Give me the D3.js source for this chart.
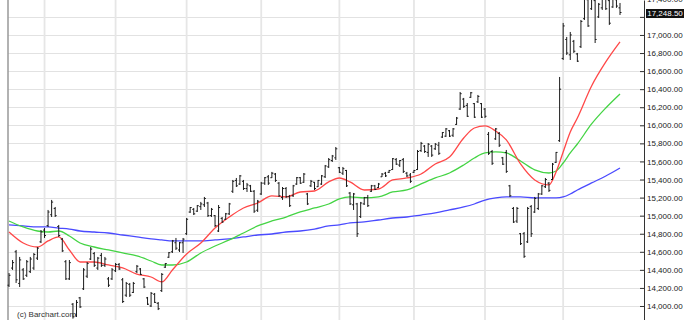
<!DOCTYPE html>
<html>
<head>
<meta charset="utf-8">
<script src="https://cdn.jsdelivr.net/npm/d3@7"></script>
<style>
body { margin: 0; background: #fff; }
svg { display: block; font-family: "Liberation Sans", Arial, sans-serif; }
</style>
</head>
<body>
<svg width="685" height="320"></svg>
<script>
// daily OHLC bars, oldest first
var highs = [
  14365,14509,14620,14543,14420,14509,14543,14587,14653,14841,
  14863,15063,15174,15096,14897,14753,14509,14509,14033,14066,
  14100,14420,14487,14653,14598,14543,14587,14543,14321,14420,
  14476,14476,14310,14266,14255,14266,14454,14420,14310,14100,
  14155,14144,14044,14365,14476,14598,14731,14753,14709,14753,
  14974,15096,15085,15118,15152,15207,15152,15085,15007,15118,
  14985,15030,15141,15395,15417,15450,15395,15362,15340,15284,
  15174,15373,15428,15450,15484,15472,15373,15317,15317,15229,
  15340,15428,15428,15472,15251,15395,15373,15395,15450,15561,
  15638,15672,15760,15539,15539,15506,15262,15251,15141,15152,
  15207,15229,15340,15340,15362,15472,15484,15506,15638,15638,
  15616,15638,15484,15472,15506,15727,15816,15782,15804,15782,
  15804,15816,15926,15970,15948,15970,16092,16369,16303,16247,
  16369,16247,16336,16247,16192,15926,15727,15970,15926,15650,
  15727,15340,15096,15096,14808,14819,15096,15118,15207,15251,
  15340,15417,15373,15583,15705,16535,17133,16978,17033,16945,
  16801,17166,17420,17400,17430,17400,17354,17430,17420,17400,
  17420,17410,17354
];
var lows = [
  14210,14399,14255,14210,14288,14321,14365,14399,14509,14697,
  14753,14874,14985,14985,14764,14598,14288,14288,13860,13878,
  13978,14177,14310,14509,14432,14399,14432,14432,14210,14288,
  14376,14399,14033,14100,14100,14144,14365,14343,14199,14011,
  13989,14033,13955,14155,14421,14532,14587,14620,14598,14587,
  14786,15030,15007,15041,15063,15096,14985,14985,14874,14819,
  14919,14952,15007,15251,15317,15340,15284,15262,15262,15030,
  15041,15229,15340,15340,15417,15373,15207,15174,15196,15096,
  15207,15340,15351,15362,15118,15317,15284,15317,15340,15417,
  15528,15594,15616,15472,15450,15317,15118,15063,14764,14974,
  15118,15096,15262,15284,15306,15428,15428,15472,15506,15561,
  15539,15472,15428,15362,15472,15506,15705,15694,15650,15650,
  15727,15672,15860,15871,15871,15871,16004,16170,16192,16092,
  16303,16081,16247,16081,16081,15672,15561,15838,15760,15561,
  15473,15207,14919,14919,14675,14532,14697,14764,15030,15063,
  15229,15306,15262,15395,15583,15816,16723,16779,16723,16801,
  16701,16856,17166,17089,17277,16911,17188,17277,17277,17111,
  17300,17300,17221
];
var opens = [
  14230,14420,14600,14250,14400,14340,14380,14420,14530,14710,
  14840,14890,15010,15080,14880,14740,14490,14300,14020,13900,
  14090,14190,14330,14520,14580,14420,14560,14450,14300,14300,
  14390,14460,14290,14120,14240,14150,14380,14410,14300,14090,
  14000,14130,14030,14170,14430,14540,14600,14700,14620,14700,
  14800,15040,15070,15050,15100,15120,15140,15000,15000,14830,
  14970,14960,15020,15270,15390,15350,15380,15300,15330,15270,
  15060,15240,15360,15430,15420,15460,15360,15200,15300,15210,
  15220,15350,15420,15370,15240,15330,15370,15320,15350,15430,
  15540,15610,15640,15530,15470,15500,15250,15120,15130,14990,
  15130,15200,15270,15330,15310,15430,15470,15480,15510,15620,
  15560,15620,15470,15450,15480,15510,15720,15770,15700,15770,
  15740,15780,15870,15880,15940,15890,16010,16180,16290,16220,
  16310,16240,16260,16240,16180,15900,15710,15850,15910,15640,
  15700,15330,15080,14940,14800,14800,14710,15100,15040,15080,
  15240,15320,15360,15400,15590,15830,16740,16950,16780,16930,
  16790,16870,17180,17390,17290,17380,17200,17300,17400,17380,
  17310,17390,17300
];
var closes = [
  14340,14480,14290,14510,14300,14490,14520,14570,14640,14820,
  14780,15040,15150,15000,14780,14610,14300,14480,13880,14040,
  13990,14400,14470,14630,14450,14530,14450,14520,14230,14400,
  14460,14410,14050,14250,14120,14250,14440,14350,14210,14020,
  14140,14040,13970,14350,14470,14590,14720,14640,14700,14740,
  14960,15090,15020,15110,15130,15190,15000,15070,14890,15090,
  14930,15020,15130,15380,15330,15440,15300,15340,15270,15050,
  15160,15360,15420,15360,15470,15390,15220,15300,15210,15110,
  15330,15420,15360,15460,15130,15380,15300,15390,15440,15550,
  15620,15660,15740,15480,15520,15330,15130,15240,14800,15140,
  15200,15110,15330,15290,15350,15460,15440,15500,15630,15570,
  15610,15490,15440,15380,15500,15710,15800,15710,15790,15670,
  15790,15690,15920,15960,15880,15960,16080,16350,16210,16100,
  16360,16090,16320,16090,16100,15690,15580,15960,15780,15570,
  15490,15220,14930,15080,14690,14550,15080,14800,15190,15240,
  15330,15400,15280,15570,15700,16400,17100,16800,17000,16820,
  16710,17150,17400,17100,17420,16950,17340,17410,17290,17130,
  17400,17320,17248.5
];

// moving averages, read at these bar positions
var maIdx = [0,4,8,11,14,17,20,24,28,32,36,40,43,46,50,54,58,62,66,70,74,78,82,86,90,93,96,
             100,104,108,112,116,120,124,128,131,134,137,140,144,148,152,154,156,158,160,164,168,172];
var maRed = [14819,14697,14653,14720,14764,14620,14487,14487,14454,14421,14354,14321,14266,14399,14576,14697,14863,14985,15085,15140,
             15218,15207,15262,15273,15373,15417,15373,15284,15295,15395,15417,15461,15572,15649,15860,15970,15993,15937,15838,15572,
             15395,15340,15483,15705,15926,16081,16435,16701,16923];
var maGreen = [14941,14875,14830,14819,14830,14775,14697,14653,14620,14587,14554,14498,14454,14454,14487,14587,14664,14731,14808,14886,
               14941,14985,15041,15085,15129,15185,15207,15196,15207,15262,15284,15351,15417,15472,15561,15638,15694,15705,15694,15605,
               15506,15472,15494,15583,15694,15793,16015,16192,16347];
var maBlue = [14897,14886,14875,14875,14863,14852,14830,14819,14808,14786,14764,14742,14731,14720,14720,14720,14731,14742,14764,14786,
              14797,14819,14830,14852,14886,14897,14919,14930,14952,14974,14985,15007,15030,15063,15096,15129,15173,15196,15207,15207,
              15196,15196,15196,15207,15240,15284,15362,15439,15528];

var yTicks = [14000,14200,14400,14600,14800,15000,15200,15400,15600,15800,16000,16200,16400,16600,16800,17000,17200,17400];
var monthIdx = [10,30,50,71,93,114,134,156];
var lastPrice = 17248.5;

var svg = d3.select("svg");
var plotLeft = 8, axisX = 644;

var x = d3.scaleLinear().domain([0, highs.length - 1]).range([9, 620]);
var y = d3.scaleLinear().domain([13845, 17387]).range([320, 0]);

// grid
svg.append("g").selectAll("line")
  .data(yTicks).enter().append("line")
  .attr("x1", plotLeft).attr("x2", axisX)
  .attr("y1", function(d) { return Math.round(y(d)) + 0.5; })
  .attr("y2", function(d) { return Math.round(y(d)) + 0.5; })
  .style("stroke", "#e2e2e2");

svg.append("g").selectAll("line")
  .data(monthIdx).enter().append("line")
  .attr("x1", function(d) { return x(d); })
  .attr("x2", function(d) { return x(d); })
  .attr("y1", 0).attr("y2", 320)
  .style("stroke", "#e6e6e6")
  .style("stroke-width", 1.8);

svg.append("line")
  .attr("x1", plotLeft).attr("x2", plotLeft)
  .attr("y1", 0).attr("y2", 320)
  .style("stroke", "#999")
  .style("stroke-width", 1.5);

// moving averages
var maLine = d3.line()
  .x(function(d, i) { return x(maIdx[i]); })
  .y(function(d) { return y(d); })
  .curve(d3.curveMonotoneX);

[[maBlue, "#4a4aff"], [maGreen, "#44d444"], [maRed, "#ff4848"]].forEach(function(m) {
  svg.append("path")
    .datum(m[0])
    .attr("d", maLine)
    .style("fill", "none")
    .style("stroke", m[1])
    .style("stroke-width", 1.3);
});

// price bars
var bars = svg.append("g").selectAll("g")
  .data(highs).enter().append("g")
  .style("stroke", "#1a1a1a")
  .style("stroke-width", 1);

bars.append("line")
  .attr("x1", function(d, i) { return x(i); })
  .attr("x2", function(d, i) { return x(i); })
  .attr("y1", function(d) { return y(d); })
  .attr("y2", function(d, i) { return y(lows[i]); });

bars.append("line")
  .attr("x1", function(d, i) { return x(i) - 1.5; })
  .attr("x2", function(d, i) { return x(i); })
  .attr("y1", function(d, i) { return y(opens[i]); })
  .attr("y2", function(d, i) { return y(opens[i]); });

bars.append("line")
  .attr("x1", function(d, i) { return x(i); })
  .attr("x2", function(d, i) { return x(i) + 1.5; })
  .attr("y1", function(d, i) { return y(closes[i]); })
  .attr("y2", function(d, i) { return y(closes[i]); });

// right axis
var fmt = d3.format(",.2f");
var axis = d3.axisRight(y)
  .tickValues(yTicks)
  .tickSizeInner(-4)
  .tickSizeOuter(0)
  .tickPadding(3)
  .tickFormat(function(d) { return d === 17200 ? "" : fmt(d); });

var ax = svg.append("g")
  .attr("transform", "translate(" + axisX + ",0)")
  .call(axis)
  .attr("font-size", 8)
  .attr("font-family", "'Liberation Sans', Arial, sans-serif");
ax.selectAll("text").attr("fill", "#222");
ax.selectAll("line").style("stroke", "#333");
ax.select(".domain").style("stroke", "#333");

// last price tag
svg.append("rect")
  .attr("x", 646).attr("y", y(lastPrice) - 3.5)
  .attr("width", 38).attr("height", 9)
  .style("fill", "#111");
svg.append("text")
  .attr("x", 665).attr("y", y(lastPrice) + 1)
  .attr("text-anchor", "middle")
  .attr("dominant-baseline", "middle")
  .style("font-size", "8px")
  .style("fill", "#fff")
  .text(fmt(lastPrice));

svg.append("text")
  .attr("x", 17).attr("y", 317)
  .style("font-size", "8px")
  .style("fill", "#333")
  .text("(c) Barchart.com");
</script>
</body>
</html>
